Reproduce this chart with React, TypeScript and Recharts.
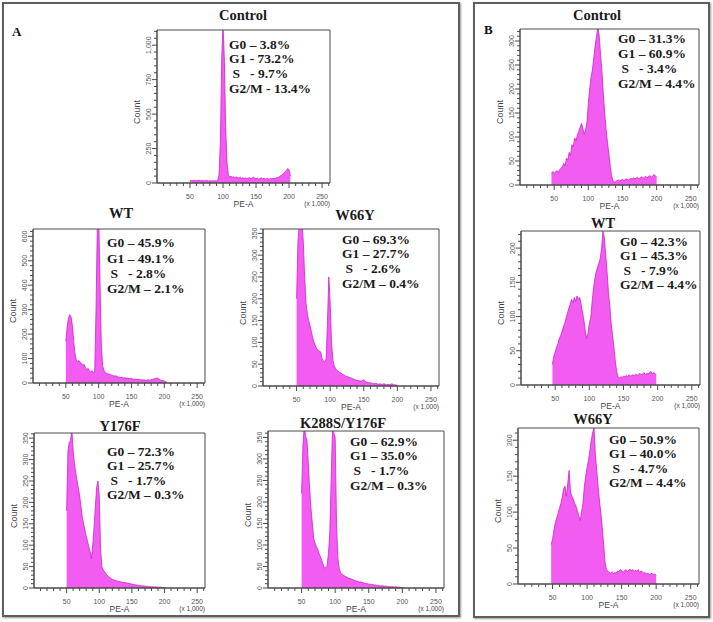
import React from "react";
import { AreaChart, Area, XAxis, YAxis, ReferenceArea } from "recharts";

// ---------- DATA ----------
const BINS = [
  44, 46, 48, 50, 52, 54, 56, 58, 60, 62,
  64, 66, 68, 70, 72, 74, 76, 78, 80, 82,
  84, 86, 88, 90, 92, 94, 96, 98, 100, 102,
  104, 106, 108, 110, 112, 114, 116, 118, 120, 122,
  124, 126, 128, 130, 132, 134, 136, 138, 140, 142,
  144, 146, 148, 150, 152, 154, 156, 158, 160, 162,
  164, 166, 168, 170, 172, 174, 176, 178, 180, 182,
  184, 186, 188, 190, 192, 194, 196, 198, 200, 202,
  204, 206,
];

const CTRL_A = [
  null, null, null, 16, 18, 17, 19, 16, 18, 17,
  19, 16, 18, 15, 17, 16, 18, 14, 16, 15,
  17, 14, 16, 15, 20, 60, 300, 900, 1150, 900,
  400, 150, 60, 45, 48, 42, 46, 38, 44, 40,
  36, 42, 34, 38, 32, 36, 30, 34, 40, 32,
  36, 44, 34, 30, 36, 28, 32, 38, 30, 34,
  28, 32, 30, 28, 32, 30, 34, 32, 36, 38,
  42, 48, 55, 62, 70, 82, 92, 105, 95, 50,
  null, null,
];

const WT_A = [
  null, null, null, 170, 230, 265, 280, 270, 235, 170,
  120, 95, 88, 92, 85, 80, 72, 76, 62, 55,
  60, 48, 45, 50, 42, 48, 300, 650, 700, 420,
  160, 70, 52, 45, 40, 38, 36, 34, 32, 30,
  28, 30, 26, 25, 24, 22, 24, 20, 22, 19,
  20, 18, 17, 19, 16, 15, 16, 14, 15, 13,
  14, 12, 13, 12, 11, 12, 13, 11, 13, 15,
  16, 18, 20, 19, 16, 12, 10, 9, 8, 6,
  3, null,
];

const W66Y_A = [
  null, null, null, 200, 330, 370, 380, 375, 330, 250,
  190, 165, 150, 138, 125, 110, 100, 92, 85, 82,
  80, 78, 62, 58, 56, 62, 150, 250, 190, 100,
  60, 46, 40, 36, 34, 31, 30, 27, 26, 24,
  22, 22, 20, 19, 18, 16, 15, 14, 13, 12,
  12, 11, 13, 14, 11, 9, 8, 7, 8, 6,
  6, 5, 6, 5, 4, 5, 4, 4, 5, 4,
  3, 4, 3, 4, 5, 3, 3, 2, 2, null,
  null, null,
];

const Y176F_A = [
  null, null, null, 180, 320, 340, 345, 370, 320, 290,
  268, 250, 232, 215, 190, 165, 150, 135, 120, 110,
  95, 85, 68, 100, 140, 190, 235, 250, 215, 90,
  50, 42, 38, 34, 30, 27, 25, 22, 20, 19,
  18, 17, 16, 15, 15, 14, 13, 13, 12, 12,
  11, 11, 10, 9, 8, 8, 7, 7, 6, 6,
  5, 5, 5, 4, 4, 4, 3, 3, 3, 3,
  2, 3, 2, 2, 2, 2, 1, 1, 1, 1,
  null, null,
];

const K288S_A = [
  null, null, null, 220, 330, 380, 352, 345, 290, 230,
  185, 150, 115, 105, 96, 90, 80, 73, 64, 55,
  46, 48, 52, 80, 130, 250, 370, 360, 350, 150,
  70, 45, 35, 32, 30, 28, 26, 25, 23, 22,
  21, 20, 18, 17, 16, 15, 14, 14, 13, 12,
  11, 10, 10, 9, 9, 8, 8, 7, 7, 6,
  6, 5, 5, 5, 5, 4, 4, 4, 3, 3,
  3, 3, 2, 3, 2, 2, 2, 1, 1, 1,
  null, null,
];

const CTRL_B = [
  null, 25, 28, 24, 27, 30, 26, 32, 35, 38,
  45, 40, 56, 52, 68, 62, 84, 80, 98, 92,
  104, 112, 120, 128, 118, 105, 115, 130, 170, 200,
  225, 240, 265, 290, 310, 330, 310, 270, 235, 190,
  150, 115, 90, 65, 40, 20, 8, 6, 7, 9,
  11, 8, 10, 12, 9, 11, 13, 10, 12, 14,
  12, 15, 13, 14, 16, 13, 15, 17, 14, 16,
  18, 15, 17, 20, 16, 18, 22, 19, 17, null,
  null, null,
];

const WT_B = [
  null, 30, 42, 48, 55, 60, 68, 72, 78, 85,
  90, 98, 105, 112, 118, 125, 120, 128, 122, 130,
  125, 128, 118, 106, 95, 80, 68, 75, 90, 98,
  120, 140, 155, 165, 172, 178, 185, 200, 225, 215,
  190, 165, 135, 115, 90, 72, 55, 35, 20, 12,
  10, 12, 11, 13, 12, 14, 12, 15, 13, 14,
  15, 13, 16, 14, 15, 17, 15, 16, 18, 15,
  17, 16, 18, 20, 16, 18, 17, 15, null, null,
  null, null,
];

const W66Y_B = [
  null, null, 55, 62, 75, 85, 92, 98, 105, 112,
  120, 132, 136, 122, 140, 158, 128, 122, 118, 112,
  108, 102, 95, 88, 100, 112, 135, 150, 162, 172,
  185, 200, 210, 218, 180, 158, 135, 115, 98, 78,
  55, 30, 20, 18, 16, 15, 17, 14, 16, 15,
  18, 17, 20, 19, 16, 18, 20, 17, 19, 21,
  18, 20, 17, 19, 18, 20, 16, 18, 17, 15,
  16, 14, 15, 13, 14, 15, 13, 14, 12, null,
  null, null,
];

const STATS_CTRL_A = ["G0 – 3.8%", "G1 - 73.2%", " S   - 9.7%", "G2/M - 13.4%"];
const STATS_WT_A = ["G0 – 45.9%", "G1 – 49.1%", " S   - 2.8%", "G2/M – 2.1%"];
const STATS_W66Y_A = ["G0 – 69.3%", "G1 – 27.7%", " S   - 2.6%", "G2/M – 0.4%"];
const STATS_Y176F_A = ["G0 – 72.3%", "G1 – 25.7%", " S   - 1.7%", "G2/M – 0.3%"];
const STATS_K288S_A = ["G0 – 62.9%", "G1 – 35.0%", " S   - 1.7%", "G2/M – 0.3%"];
const STATS_CTRL_B = ["G0 – 31.3%", "G1 – 60.9%", " S   - 3.4%", "G2/M – 4.4%"];
const STATS_WT_B = ["G0 – 42.3%", "G1 – 45.3%", " S   - 7.9%", "G2/M – 4.4%"];
const STATS_W66Y_B = ["G0 – 50.9%", "G1 – 40.0%", " S   - 4.7%", "G2/M – 4.4%"];

const X_TICKS = [10, 20, 30, 40, 50, 60, 70, 80, 90, 100, 110, 120, 130, 140, 150, 160, 170, 180, 190, 200, 210, 220, 230, 240, 250, 260];
const X_MAJOR = [50, 100, 150, 200, 250];
const Y_MAJOR_1000 = [0, 250, 500, 750, 1000];
const Y_MAJOR_600 = [0, 100, 200, 300, 400, 500, 600];
const Y_MAJOR_350 = [0, 50, 100, 150, 200, 250, 300, 350];
const Y_MAJOR_300 = [0, 50, 100, 150, 200, 250, 300];
const Y_MAJOR_200 = [0, 50, 100, 150, 200];

// ---------- STYLE ----------
const FILL = "#f35cf0";
const STROKE = "#cc22cc";
const AXIS = "#4a4a4a";
const TICK_TXT = "#555";
const SANS = "'Liberation Sans', Arial, sans-serif";
const SERIF = "'Liberation Serif', 'Times New Roman', serif";

const PANELS = [
  { title: "Control", counts: CTRL_A, stats: STATS_CTRL_A, yMax: 1110, yMajor: Y_MAJOR_1000, yMinor: 50,
    plot: { l: 157, t: 30, w: 173, h: 153 }, titleAt: [243, 15], statsAt: [229, 45], lineH: 14.7 },
  { title: "WT", counts: WT_A, stats: STATS_WT_A, yMax: 630, yMajor: Y_MAJOR_600, yMinor: 20,
    plot: { l: 33, t: 229, w: 172, h: 154 }, titleAt: [121, 213], statsAt: [107, 243], lineH: 15.3 },
  { title: "W66Y", counts: W66Y_A, stats: STATS_W66Y_A, yMax: 360, yMajor: Y_MAJOR_350, yMinor: 10,
    plot: { l: 263, t: 229, w: 176, h: 157 }, titleAt: [355, 215], statsAt: [342, 240], lineH: 14.7 },
  { title: "Y176F", counts: Y176F_A, stats: STATS_Y176F_A, yMax: 362, yMajor: Y_MAJOR_350, yMinor: 10,
    plot: { l: 34, t: 433, w: 171, h: 155 }, titleAt: [120, 426], statsAt: [107, 452], lineH: 14.4 },
  { title: "K288S/Y176F", counts: K288S_A, stats: STATS_K288S_A, yMax: 365, yMajor: Y_MAJOR_350, yMinor: 10,
    plot: { l: 268, t: 431, w: 176, h: 157 }, titleAt: [343, 423], statsAt: [350, 442], lineH: 14.7 },
  { title: "Control", counts: CTRL_B, stats: STATS_CTRL_B, yMax: 325, yMajor: Y_MAJOR_300, yMinor: 10,
    plot: { l: 520, t: 29, w: 179, h: 156 }, titleAt: [597, 15], statsAt: [618, 38], lineH: 15 },
  { title: "WT", counts: WT_B, stats: STATS_WT_B, yMax: 225, yMajor: Y_MAJOR_200, yMinor: 10,
    plot: { l: 521, t: 231, w: 179, h: 154 }, titleAt: [603, 223], statsAt: [620, 242], lineH: 14.4 },
  { title: "W66Y", counts: W66Y_B, stats: STATS_W66Y_B, yMax: 217, yMajor: Y_MAJOR_200, yMinor: 10,
    plot: { l: 518, t: 428, w: 181, h: 156 }, titleAt: [593, 419], statsAt: [609, 440], lineH: 14.4 },
];

const fmtNum = (v: number) => v.toLocaleString("en-US");

const XTick = (props: any) => {
  const { x, y, payload } = props;
  const v = payload.value;
  const major = X_MAJOR.includes(v);
  return (
    <g>
      <line x1={x} x2={x} y1={y} y2={y + (major ? 5 : 3)} stroke={AXIS} strokeWidth={1} />
      {major && (
        <text x={x} y={y + 13} textAnchor="middle" dominantBaseline="central" fontSize={7} fill={TICK_TXT} fontFamily={SANS}>
          {fmtNum(v)}
        </text>
      )}
    </g>
  );
};

const makeYTick = (majors: number[]) => (props: any) => {
  const { x, y, payload } = props;
  const v = payload.value;
  const major = majors.includes(v);
  const lx = x - 9;
  return (
    <g>
      <line x1={x} x2={x - (major ? 5 : 3)} y1={y} y2={y} stroke={AXIS} strokeWidth={1} />
      {major && (
        <g transform={`translate(${lx}, ${y}) rotate(-90)`}>
          <text x={0} y={0} textAnchor="middle" dominantBaseline="central" fontSize={7} fill={TICK_TXT} fontFamily={SANS}>
            {fmtNum(v)}
          </text>
        </g>
      )}
    </g>
  );
};

const ML = 30, MT = 4, MR = 4, MB = 30;

function Histogram({ p }: { p: any }) {
  const data = BINS.map((x, i) => ({ x, c: p.counts[i] }));
  const yTicks: number[] = [];
  for (let v = 0; v <= p.yMax; v += p.yMinor) yTicks.push(v);
  const { l, t, w, h } = p.plot;
  return (
    <>
      <div style={{ position: "absolute", left: l - ML, top: t - MT }}>
        <AreaChart width={w + ML + MR} height={h + MT + MB} data={data} margin={{ top: MT, right: MR, left: 0, bottom: 0 }}>
          <XAxis dataKey="x" type="number" domain={[0, 262]} ticks={X_TICKS} interval={0} tickSize={0} tickMargin={0}
            height={MB} axisLine={{ stroke: AXIS }} tickLine={false} tick={XTick} allowDataOverflow />
          <YAxis type="number" domain={[0, p.yMax]} ticks={yTicks} interval={0} tickSize={0} tickMargin={0}
            width={ML} axisLine={{ stroke: AXIS }} tickLine={false} tick={makeYTick(p.yMajor)} allowDataOverflow />
          <Area dataKey="c" type="linear" fill={FILL} fillOpacity={1} stroke={STROKE} strokeWidth={0.8}
            isAnimationActive={false} connectNulls={false} dot={false} activeDot={false} />
          <ReferenceArea x1={0} x2={262} y1={0} y2={p.yMax} fill="none" stroke={AXIS} strokeWidth={1} ifOverflow="visible" />
        </AreaChart>
      </div>
      <div style={{ position: "absolute", left: p.titleAt[0], top: p.titleAt[1], transform: "translate(-50%, -50%)",
        fontFamily: SERIF, fontWeight: "bold", fontSize: 14.5, lineHeight: "15px", color: "#1a1a1a", whiteSpace: "nowrap" }}>
        {p.title}
      </div>
      <div style={{ position: "absolute", left: p.statsAt[0], top: p.statsAt[1] - p.lineH / 2,
        fontFamily: SERIF, fontWeight: "bold", fontSize: 13.5, lineHeight: `${p.lineH}px`, color: "#1a1a1a" }}>
        {p.stats.map((s: string, i: number) => (
          <div key={i} style={{ whiteSpace: "pre" }}>{s}</div>
        ))}
      </div>
      <div style={{ position: "absolute", left: l - 20, top: t + h / 2 + 5, transform: "translate(-50%, -50%) rotate(-90deg)",
        fontFamily: SANS, fontSize: 9, color: "#444", whiteSpace: "nowrap" }}>
        Count
      </div>
      <div style={{ position: "absolute", left: l + w / 2, top: t + h + 21, transform: "translate(-50%, -50%)",
        fontFamily: SANS, fontSize: 8.5, lineHeight: "9px", color: "#444", whiteSpace: "nowrap" }}>
        PE-A
      </div>
      <div style={{ position: "absolute", left: l + w, top: t + h + 20, transform: "translate(-100%, -50%)",
        fontFamily: SANS, fontSize: 6.5, lineHeight: "7px", color: "#444", whiteSpace: "nowrap" }}>
        (x 1,000)
      </div>
    </>
  );
}

export default function App() {
  return (
    <div style={{ position: "absolute", left: 0, top: 0, width: 713, height: 622, background: "#fff", overflow: "hidden" }}>
      <div style={{ position: "absolute", left: 2, top: 2, width: 458, height: 615, boxSizing: "border-box",
        border: "2px solid #5e5e5e", boxShadow: "1px 1px 2px #999" }} />
      <div style={{ position: "absolute", left: 473, top: 2, width: 237, height: 616, boxSizing: "border-box",
        border: "2px solid #5e5e5e", boxShadow: "1px 1px 2px #999" }} />
      <div style={{ position: "absolute", left: 12, top: 24, fontFamily: SERIF, fontWeight: "bold", fontSize: 13, color: "#111" }}>A</div>
      <div style={{ position: "absolute", left: 484, top: 22, fontFamily: SERIF, fontWeight: "bold", fontSize: 13, color: "#111" }}>B</div>
      {PANELS.map((p, i) => (
        <Histogram key={i} p={p} />
      ))}
    </div>
  );
}
